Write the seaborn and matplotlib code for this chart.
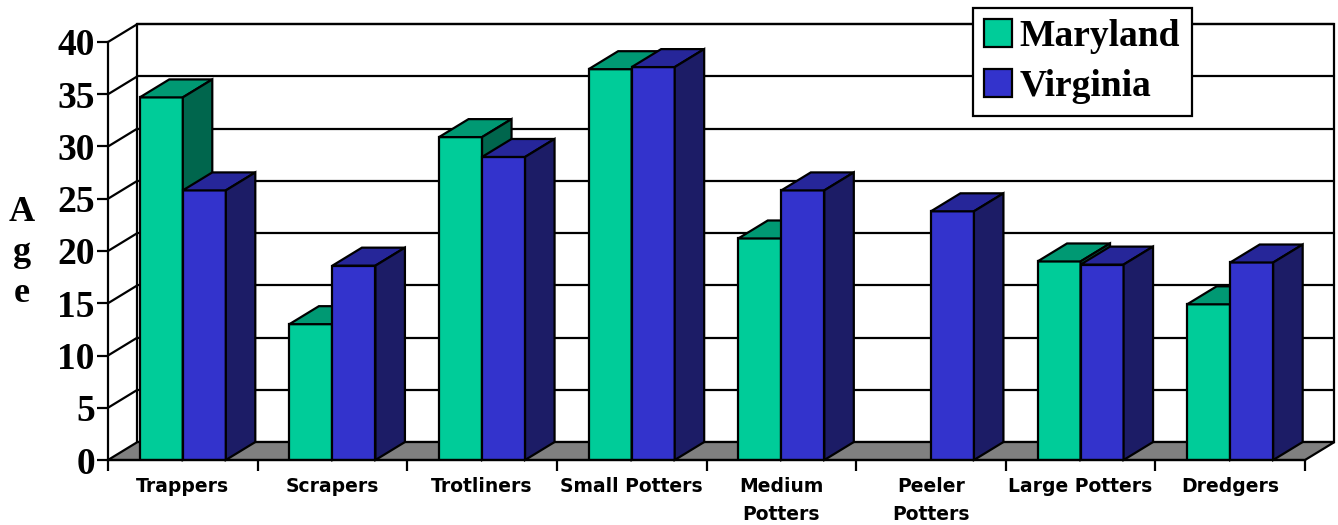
import numpy as np
import pandas as pd
import matplotlib
matplotlib.use("Agg")
import matplotlib.pyplot as plt
from matplotlib.patches import Polygon, Rectangle
import seaborn as sns

# data
categories = ["Trappers", "Scrapers", "Trotliners", "Small Potters",
              "Medium\nPotters", "Peeler\nPotters", "Large Potters", "Dredgers"]
maryland = [34.7, 13.0, 30.9, 37.4, 21.2, np.nan, 19.0, 14.9]
virginia = [25.8, 18.6, 29.0, 37.6, 25.8, 23.8, 18.7, 18.9]
states = ["Maryland", "Virginia"]
yticks = list(range(0, 45, 5))

# face colours: front, top, side
front_cols = {"Maryland": "#00CC99", "Virginia": "#3333CC"}
top_cols = {"Maryland": "#009973", "Virginia": "#262699"}
side_cols = {"Maryland": "#00664D", "Virginia": "#1C1C66"}

df = pd.DataFrame({
    "category": categories * 2,
    "state": ["Maryland"] * len(categories) + ["Virginia"] * len(categories),
    "age": maryland + virginia,
})

sns.set_style("white")
plt.rcParams["font.family"] = ["Liberation Serif", "DejaVu Serif"]
plt.rcParams["text.color"] = "black"
plt.rcParams["xtick.color"] = "black"
plt.rcParams["ytick.color"] = "black"

fig = plt.figure(figsize=(13.38, 5.25), dpi=100)
ax = fig.add_axes([108 / 1338, 65 / 525, 1197 / 1338, 418 / 525])

sns.barplot(data=df, x="category", y="age", hue="state", hue_order=states,
            palette=front_cols, width=0.575, gap=0, saturation=1,
            edgecolor="black", linewidth=1.5, ax=ax, zorder=5, legend=True)

n = len(categories)
x0, x1 = -0.5, n - 0.5
ax.set_xlim(x0, x1)
ax.set_ylim(0, 40)
dx, dy = 0.197, 1.72   # depth offset in data units
lw = 1.6

# back wall + gridlines
ax.add_patch(Rectangle((x0 + dx, dy), x1 - x0, 40, facecolor="white",
                       edgecolor="black", linewidth=lw, zorder=0.5, clip_on=False))
for v in yticks[1:]:
    ax.plot([x0 + dx, x1 + dx], [v + dy, v + dy], color="black", lw=lw,
            zorder=1, clip_on=False)
    ax.plot([x0, x0 + dx], [v, v + dy], color="black", lw=lw,
            zorder=1, clip_on=False)

# floor
ax.add_patch(Polygon([(x0, 0), (x1, 0), (x1 + dx, dy), (x0 + dx, dy)],
                     closed=True, facecolor="#808080", edgecolor="black",
                     linewidth=lw, zorder=2, clip_on=False))

# 3d faces for bars
bars = []
for cont, st in zip(ax.containers, states):
    for p in cont.patches:
        h = p.get_height()
        if h is None or np.isnan(h) or h == 0:
            p.set_visible(False)
            continue
        bars.append((p.get_x(), p, st))
bars.sort(key=lambda b: b[0])
z = 3
for bx, p, st in bars:
    w, h = p.get_width(), p.get_height()
    p.set_facecolor(front_cols[st])
    p.set_linewidth(lw)
    p.set_zorder(z)
    top = Polygon([(bx, h), (bx + w, h), (bx + w + dx, h + dy), (bx + dx, h + dy)],
                  closed=True, facecolor=top_cols[st], edgecolor="black",
                  linewidth=lw, zorder=z + 1, clip_on=False)
    side = Polygon([(bx + w, 0), (bx + w + dx, dy), (bx + w + dx, h + dy), (bx + w, h)],
                   closed=True, facecolor=side_cols[st], edgecolor="black",
                   linewidth=lw, zorder=z + 2, clip_on=False)
    ax.add_patch(top)
    ax.add_patch(side)
    z += 3

# axes
ax.set_facecolor("none")
for s in ["top", "right"]:
    ax.spines[s].set_visible(False)
for s in ["left", "bottom"]:
    ax.spines[s].set_linewidth(lw)
    ax.spines[s].set_color("black")
    ax.spines[s].set_zorder(100)

ax.set_yticks(yticks)
ax.set_yticklabels([str(v) for v in yticks], fontsize=27, fontweight="bold",
                   color="black")
ax.tick_params(axis="y", direction="out", length=8, width=lw, pad=1.5, left=True,
               colors="black")

ax.set_xticks(np.arange(x0, x1 + 0.01, 1.0))
ax.set_xticklabels([])
ax.set_xticks(np.arange(n), minor=True)
ax.set_xticklabels(categories, minor=True, fontsize=13.5, fontweight="bold",
                   family="DejaVu Sans", linespacing=1.6, va="top", color="black")
ax.tick_params(axis="x", which="major", direction="out", length=8, width=lw,
               bottom=True, colors="black")
ax.tick_params(axis="x", which="minor", length=0, pad=12)
ax.set_xlabel("")
ax.set_ylabel("")

fig.text(22 / 1338, 1 - 253 / 525, "A\ng\ne", fontsize=26, fontweight="bold",
         ha="center", va="center", linespacing=1.3, color="black")

# legend
handles, labels = ax.get_legend_handles_labels()
leg = ax.legend(handles, labels, loc="upper left", bbox_to_anchor=(973 / 1338, 1 - 8 / 525),
                bbox_transform=fig.transFigure, frameon=True, fancybox=False,
                prop={"family": "Liberation Serif", "weight": "bold", "size": 27},
                handlelength=0.75, handleheight=0.75, handletextpad=0.2,
                borderpad=0.3, labelspacing=0.4, borderaxespad=0)
leg.get_frame().set_edgecolor("black")
leg.get_frame().set_linewidth(lw)
leg.get_frame().set_alpha(1)
leg.set_zorder(200)
for t in leg.get_texts():
    t.set_color("black")
for hp in leg.get_patches():
    hp.set_edgecolor("black")
    hp.set_linewidth(lw)

fig.savefig("out.png", dpi=100)
